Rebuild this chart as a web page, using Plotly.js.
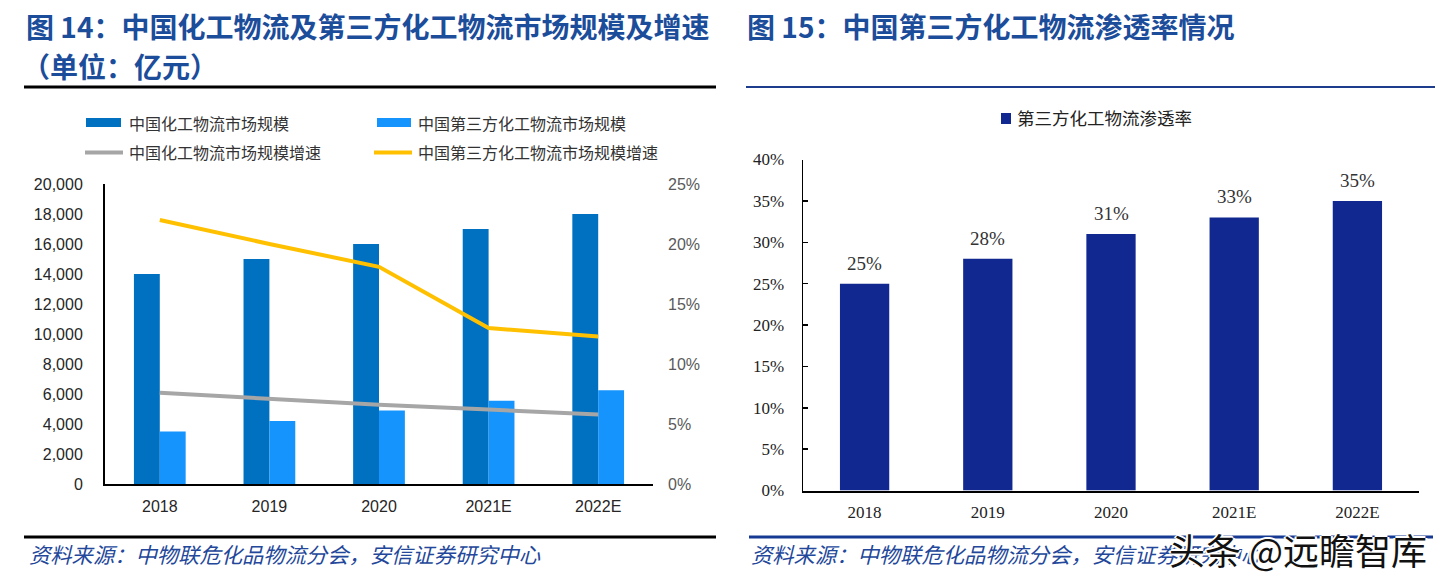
<!DOCTYPE html>
<html>
<head>
<meta charset="utf-8">
<script src="https://cdn.plot.ly/plotly-3.0.1.min.js"></script>
<style>
  html, body { margin: 0; padding: 0; background: #ffffff; }
  #chart { width: 1447px; height: 582px; }
</style>
</head>
<body>
<div id="chart"></div>
<script>
// ---------- data ----------
const years = ['2018', '2019', '2020', '2021E', '2022E'];
const chemMarket = [14000, 15000, 16000, 17000, 18000];          // 中国化工物流市场规模 (亿元)
const thirdPartyMarket = [3500, 4200, 4900, 5550, 6250];        // 中国第三方化工物流市场规模 (亿元)
const chemGrowth = [0.076, 0.071, 0.066, 0.062, 0.058];          // 中国化工物流市场规模增速
const thirdPartyGrowth = [0.22, 0.20, 0.181, 0.13, 0.123];       // 中国第三方化工物流市场规模增速
const penetration = [0.25, 0.28, 0.31, 0.33, 0.35];              // 第三方化工物流渗透率

const seriesNames = ['中国化工物流市场规模', '中国第三方化工物流市场规模', '中国化工物流市场规模增速', '中国第三方化工物流市场规模增速'];
const rightSeriesName = '第三方化工物流渗透率';

const title14a = '图 14：中国化工物流及第三方化工物流市场规模及增速';
const title14b = '（单位：亿元）';
const title15 = '图 15：中国第三方化工物流渗透率情况';
const sourceText = '资料来源：中物联危化品物流分会，安信证券研究中心';
const watermark = '头条 @远瞻智库';

// ---------- styling ----------
const W = 1447, H = 582;
const px = x => x / W;
const py = y => 1 - y / H;

const C_DARK = '#0070c0';
const C_LIGHT = '#1494fc';
const C_GRAY = '#a6a6a6';
const C_YELLOW = '#ffc000';
const C_NAVY = '#10288f';
const C_TITLE = '#1c4d9b';
const C_SRC = '#23479a';

const CJK = '"Noto Sans CJK SC", "Noto Sans", sans-serif';
const SANS = '"Liberation Sans", Arial, sans-serif';
const SERIF = '"Liberation Serif", "Times New Roman", serif';

// ---------- traces ----------
const traces = [
  {
    type: 'bar', name: seriesNames[0], x: years, y: chemMarket,
    xaxis: 'x', yaxis: 'y', marker: { color: C_DARK },
    width: 0.236, offset: -0.236, showlegend: false
  },
  {
    type: 'bar', name: seriesNames[1], x: years, y: thirdPartyMarket,
    xaxis: 'x', yaxis: 'y', marker: { color: C_LIGHT },
    width: 0.236, offset: 0, showlegend: false
  },
  {
    type: 'scatter', mode: 'lines', name: seriesNames[2], x: years, y: chemGrowth,
    xaxis: 'x', yaxis: 'y2', line: { color: C_GRAY, width: 4 }, showlegend: false
  },
  {
    type: 'scatter', mode: 'lines', name: seriesNames[3], x: years, y: thirdPartyGrowth,
    xaxis: 'x', yaxis: 'y2', line: { color: C_YELLOW, width: 4 }, showlegend: false
  },
  {
    type: 'bar', name: rightSeriesName, x: years, y: penetration,
    xaxis: 'x2', yaxis: 'y3', marker: { color: C_NAVY }, width: 0.4, offset: -0.2,
    showlegend: false
  }
];

// ---------- annotations ----------
const annotations = [];
function addText(text, x, y, font, xanchor) {
  annotations.push({
    text: text, xref: 'paper', yref: 'paper', x: px(x), y: py(y),
    xanchor: xanchor || 'left', yanchor: 'middle', showarrow: false, font: font
  });
}

// titles
addText('<b>' + title14a + '</b>', 24, 26, { family: CJK, size: 28, color: C_TITLE });
addText('<b>' + title14b + '</b>', 20, 66, { family: CJK, size: 28, color: C_TITLE });
addText('<b>' + title15 + '</b>', 745, 26, { family: CJK, size: 28, color: C_TITLE });

// left legend texts
const legFont = { family: CJK, size: 16, color: '#333333' };
addText(seriesNames[0], 127, 123, legFont);
addText(seriesNames[1], 416, 123, legFont);
addText(seriesNames[2], 127, 152, legFont);
addText(seriesNames[3], 416, 152, legFont);

// right legend text
addText(rightSeriesName, 1015, 118, { family: CJK, size: 17.5, color: '#222222' });

// data labels for penetration bars (positioned from the data on the x2/y3 axes)
penetration.forEach((v, i) => {
  annotations.push({
    text: Math.round(v * 100) + '%', xref: 'x2', yref: 'y3', x: i, y: v,
    xanchor: 'center', yanchor: 'bottom', yshift: 8, showarrow: false,
    font: { family: SERIF, size: 19, color: '#333333' }
  });
});

// sources
addText('<i>' + sourceText + '</i>', 27, 553, { family: CJK, size: 21.3, color: C_SRC });
addText('<i>' + sourceText + '</i>', 749, 553, { family: CJK, size: 21.3, color: C_SRC });

// watermark
annotations.push({
  text: watermark, xref: 'paper', yref: 'paper', x: px(1298), y: py(549),
  xanchor: 'center', yanchor: 'middle', showarrow: false, borderpad: 0,
  font: { family: CJK, size: 36, color: '#111111',
          shadow: '2px 0 0 #fff, -2px 0 0 #fff, 0 2px 0 #fff, 0 -2px 0 #fff' }
});

// ---------- shapes (frame rules and legend keys) ----------
const shapes = [
  { type: 'line', xref: 'paper', yref: 'paper', x0: px(24), x1: px(716), y0: py(87), y1: py(87), line: { color: '#000000', width: 3 } },
  { type: 'line', xref: 'paper', yref: 'paper', x0: px(746), x1: px(1435), y0: py(87), y1: py(87), line: { color: '#1e3c8c', width: 2 } },
  { type: 'line', xref: 'paper', yref: 'paper', x0: px(24), x1: px(716), y0: py(537), y1: py(537), line: { color: '#000000', width: 3 } },
  { type: 'line', xref: 'paper', yref: 'paper', x0: px(749), x1: px(1433), y0: py(537), y1: py(537), line: { color: '#163a94', width: 3 } },
  { type: 'rect', xref: 'paper', yref: 'paper', x0: px(86), x1: px(121), y0: py(127), y1: py(118), fillcolor: C_DARK, line: { width: 0 } },
  { type: 'rect', xref: 'paper', yref: 'paper', x0: px(377), x1: px(411), y0: py(127), y1: py(118), fillcolor: C_LIGHT, line: { width: 0 } },
  { type: 'line', xref: 'paper', yref: 'paper', x0: px(85), x1: px(123), y0: py(152.5), y1: py(152.5), line: { color: C_GRAY, width: 4 } },
  { type: 'line', xref: 'paper', yref: 'paper', x0: px(374), x1: px(412), y0: py(152.5), y1: py(152.5), line: { color: C_YELLOW, width: 4 } },
  { type: 'rect', xref: 'paper', yref: 'paper', x0: px(1001), x1: px(1011), y0: py(124), y1: py(113), fillcolor: C_NAVY, line: { width: 0 } }
];

// ---------- layout ----------
const layout = {
  width: W, height: H,
  margin: { l: 0, r: 0, t: 0, b: 0, pad: 0 },
  paper_bgcolor: '#ffffff', plot_bgcolor: 'rgba(0,0,0,0)',
  barmode: 'overlay',
  showlegend: false,
  xaxis: {
    domain: [px(105), px(653)], anchor: 'y', type: 'category',
    categoryorder: 'array', categoryarray: years, range: [-0.5, 4.5],
    showline: true, linecolor: '#000000', linewidth: 2, showgrid: false, zeroline: false,
    ticks: '', ticklabelstandoff: 7,
    tickfont: { family: SANS, size: 16, color: '#262626' }
  },
  yaxis: {
    domain: [py(484), py(184)], anchor: 'x', range: [0, 20000], dtick: 2000, tickformat: ',d',
    showline: true, linecolor: '#000000', linewidth: 2, showgrid: false, zeroline: false,
    ticks: '', ticklabelstandoff: 17,
    tickfont: { family: SANS, size: 16, color: '#262626' }
  },
  yaxis2: {
    overlaying: 'y', side: 'right', anchor: 'x', range: [0, 0.25], dtick: 0.05, tickformat: '.0%',
    showline: false, showgrid: false, zeroline: false, ticks: '', ticklabelstandoff: 14,
    tickfont: { family: SANS, size: 16, color: '#595959' }
  },
  xaxis2: {
    domain: [px(803), px(1419)], anchor: 'y3', type: 'category',
    categoryorder: 'array', categoryarray: years, range: [-0.5, 4.5],
    showline: true, linecolor: '#000000', linewidth: 2.5, showgrid: false, zeroline: false,
    ticks: '', ticklabelstandoff: 5,
    tickfont: { family: SERIF, size: 17, color: '#222222' }
  },
  yaxis3: {
    domain: [py(490.5), py(159.5)], anchor: 'x2', range: [0, 0.40], dtick: 0.05, tickformat: '.0%',
    showline: true, linecolor: '#000000', linewidth: 1.5, showgrid: false, zeroline: false,
    ticks: 'inside', ticklen: 5, tickwidth: 1.5, tickcolor: '#000000', ticklabelstandoff: 14,
    tickfont: { family: SERIF, size: 17, color: '#222222' }
  },
  annotations: annotations,
  shapes: shapes
};

Plotly.newPlot('chart', traces, layout, { displayModeBar: false, staticPlot: true });
</script>
</body>
</html>
